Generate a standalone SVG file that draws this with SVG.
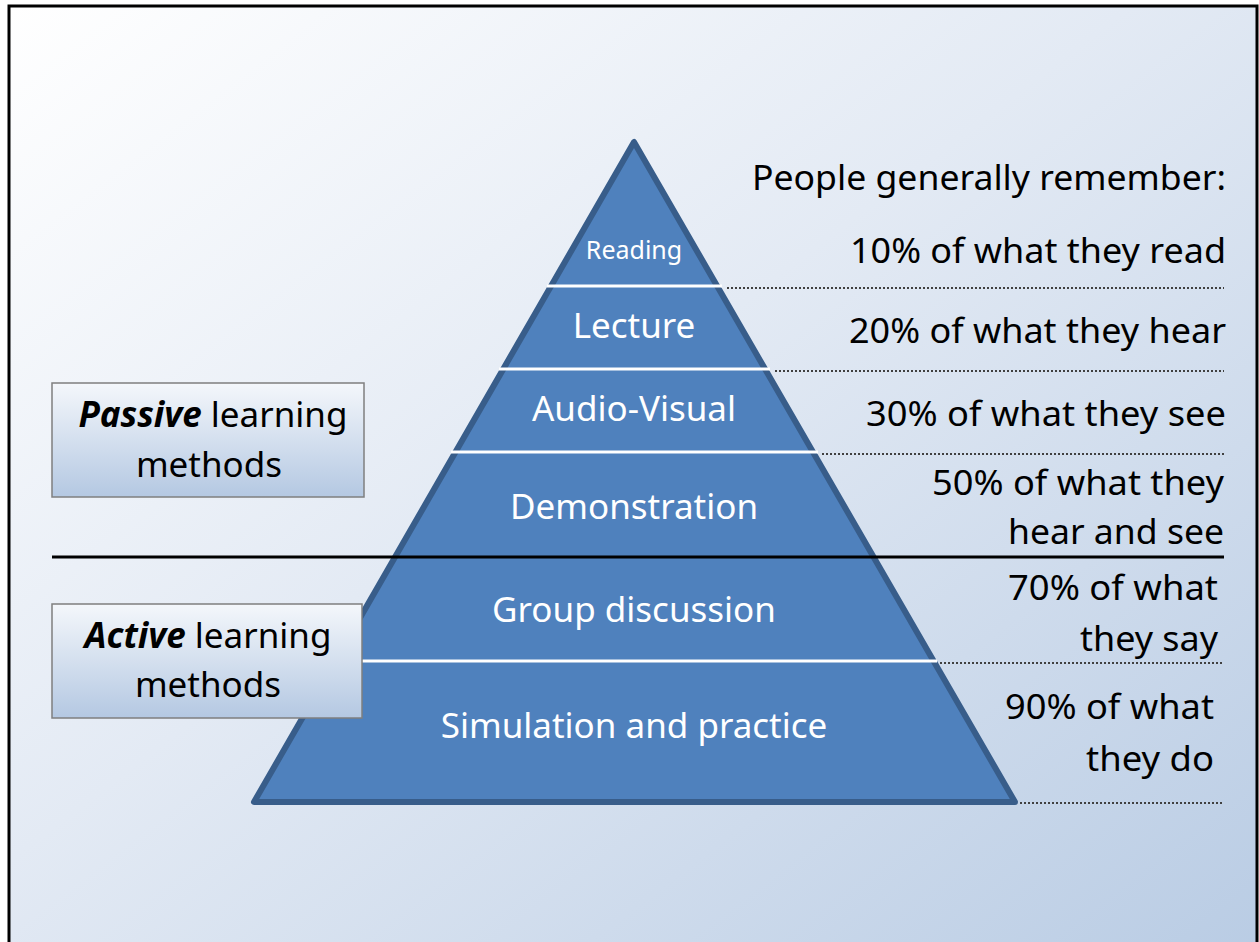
<svg xmlns="http://www.w3.org/2000/svg" width="1259" height="942" viewBox="0 0 1259 942">
  <defs>
    <linearGradient id="bg" x1="0" y1="0" x2="1" y2="1">
      <stop offset="0" stop-color="#ffffff"/>
      <stop offset="0.45" stop-color="#e3eaf4"/>
      <stop offset="1" stop-color="#b9cce4"/>
    </linearGradient>
    <linearGradient id="boxfill" x1="0" y1="0" x2="0" y2="1">
      <stop offset="0" stop-color="#f4f7fb"/>
      <stop offset="1" stop-color="#b4c8e2"/>
    </linearGradient>
    <style>
      .lbl { font-family: "Noto Sans", "Open Sans", sans-serif; fill: #ffffff; text-anchor: middle; font-size: 35px; }
      .lbl.small { font-size: 25px; }
      .pct { font-family: "Noto Sans", "Open Sans", sans-serif; fill: #000000; font-size: 35px; text-anchor: end; }
      .box { fill: url(#boxfill); stroke: #7f7f7f; stroke-width: 1.5; }
      .boxt { font-family: "Noto Sans", "Open Sans", sans-serif; fill: #000000; font-size: 35px; text-anchor: middle; }
      .sep { stroke: #ffffff; stroke-width: 3; }
      .dot { stroke: #404040; stroke-width: 2; stroke-dasharray: 2 2; }
    </style>
  </defs>

  <!-- backdrop and frame -->
  <rect x="0" y="0" width="1259" height="942" fill="#ffffff"/>
  <rect x="9" y="6" width="1248" height="950" fill="url(#bg)" stroke="#000000" stroke-width="3"/>

  <!-- pyramid body -->
  <g id="pyramid">
    <polygon points="634,142 254,802 1015,802" fill="#4f81bd" stroke="#385d8a" stroke-width="6" stroke-linejoin="round"/>
  </g>

  <!-- layer dividers and leader lines -->
  <g id="connectors">
    <line class="sep" x1="547" y1="286" x2="722" y2="286"/>
    <line class="sep" x1="499" y1="369" x2="770" y2="369"/>
    <line class="sep" x1="451" y1="452" x2="818" y2="452"/>
    <line class="sep" x1="330" y1="661" x2="937" y2="661"/>
    <line class="dot" x1="727" y1="288" x2="1224" y2="288"/>
    <line class="dot" x1="775" y1="371" x2="1224" y2="371"/>
    <line class="dot" x1="822" y1="454" x2="1224" y2="454"/>
    <line class="dot" x1="940" y1="663" x2="1224" y2="663"/>
    <line class="dot" x1="1020" y1="803" x2="1224" y2="803"/>
    <line x1="52" y1="557" x2="1224" y2="557" stroke="#000000" stroke-width="3"/>
  </g>

  <!-- layer labels -->
  <g id="layer-reading"><text class="lbl small" x="634" y="259">Reading</text></g>
  <g id="layer-lecture"><text class="lbl" x="634" y="338">Lecture</text></g>
  <g id="layer-audiovisual"><text class="lbl" x="634" y="421">Audio-Visual</text></g>
  <g id="layer-demonstration"><text class="lbl" x="634" y="519">Demonstration</text></g>
  <g id="layer-group"><text class="lbl" x="634" y="622">Group discussion</text></g>
  <g id="layer-simulation"><text class="lbl" x="634" y="738">Simulation and practice</text></g>

  <!-- retention column -->
  <g id="retention">
    <text class="pct" x="1226" y="190" textLength="474" lengthAdjust="spacingAndGlyphs">People generally remember:</text>
    <text class="pct" x="1226" y="263" textLength="376" lengthAdjust="spacingAndGlyphs">10% of what they read</text>
    <text class="pct" x="1226" y="343" textLength="377" lengthAdjust="spacingAndGlyphs">20% of what they hear</text>
    <text class="pct" x="1226" y="426" textLength="360" lengthAdjust="spacingAndGlyphs">30% of what they see</text>
    <text class="pct" x="1224" y="495" textLength="292" lengthAdjust="spacingAndGlyphs">50% of what they</text>
    <text class="pct" x="1224" y="544" textLength="216" lengthAdjust="spacingAndGlyphs">hear and see</text>
    <text class="pct" x="1218" y="600" textLength="210" lengthAdjust="spacingAndGlyphs">70% of what</text>
    <text class="pct" x="1218" y="651" textLength="138" lengthAdjust="spacingAndGlyphs">they say</text>
    <text class="pct" x="1214" y="719" textLength="209" lengthAdjust="spacingAndGlyphs">90% of what</text>
    <text class="pct" x="1214" y="771" textLength="128" lengthAdjust="spacingAndGlyphs">they do</text>
  </g>

  <!-- method boxes -->
  <g id="passive-box">
    <rect class="box" x="52" y="383" width="312" height="114"/>
    <text class="boxt" x="213" y="427"><tspan font-weight="bold" font-style="italic">Passive</tspan> learning</text>
    <text class="boxt" x="209" y="477">methods</text>
  </g>
  <g id="active-box">
    <rect class="box" x="52" y="604" width="310" height="114"/>
    <text class="boxt" x="208" y="648"><tspan font-weight="bold" font-style="italic">Active</tspan> learning</text>
    <text class="boxt" x="208" y="697">methods</text>
  </g>
</svg>
